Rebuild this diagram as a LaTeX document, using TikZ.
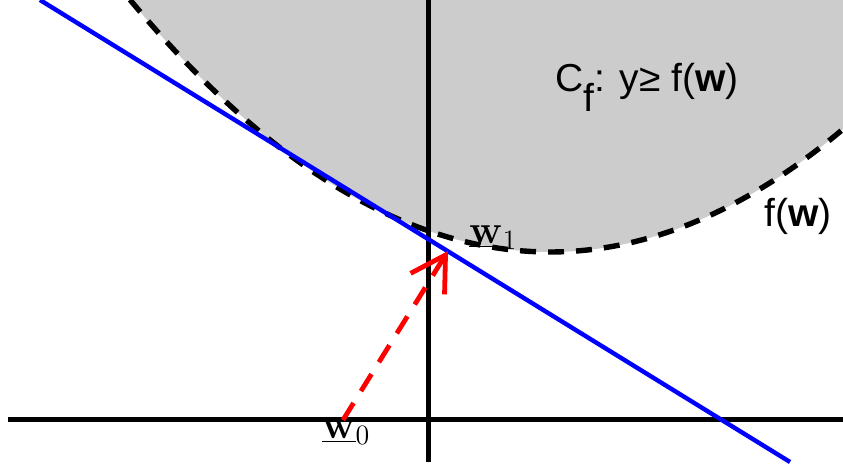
\documentclass[tikz,border=0pt]{standalone}
\usepackage{fix-cm}
\usepackage[no-math]{fontspec}
\newfontfamily\sansfont{Liberation Sans}
\usetikzlibrary{arrows.meta}
\tikzset{
ax/.style={line width=2.5pt},
fw/.style={line width=2.7pt,dash pattern=on 8pt off 6pt},
tang/.style={blue,line width=2.2pt},
move/.style={red,line width=2.4pt,dash pattern=on 10pt off 7pt,-{Straight Barb[length=17pt,width=20pt]}},
lbl/.style={font=\fontsize{19.5}{24}\sansfont,inner sep=0pt,anchor=base west},
vec/.style={font=\fontsize{20}{24}\selectfont,inner sep=0pt,anchor=base west},
}

\begin{document}
\begin{tikzpicture}[x=0.5pt,y=-0.5pt]
	\useasboundingbox (0,0) rectangle (843,470);
	\coordinate (xl) at (8,420);
	\coordinate (xr) at (843,420);
	\coordinate (yt) at (428,0);
	\coordinate (yb) at (428,462);
	\coordinate (ta) at (40,0);
	\coordinate (tb) at (790,462);
	\coordinate (p0) at (343,420);
	\coordinate (p1) at (448,251);

	% epigraph and f(w)
	\fill[gray!40] plot[domain=130:843,samples=90] (\x,{252-14.3*((\x-550)/100)^2}) -- (843,0) -- cycle;
	\draw[fw] plot[domain=130:843,samples=90] (\x,{252-14.3*((\x-550)/100)^2});

	\draw[ax] (xl) -- (xr);
	\draw[ax] (yt) -- (yb);
	\draw[tang] (ta) -- (tb);
	\draw[move] (p0) -- (p1);

	\node[lbl] (cf) at (555,92) {C\raisebox{-10pt}{f}: y≥ f(\textbf{w})};
	\node[lbl] (fw) at (764,227) {f(\textbf{w})};
	\node[vec] (w1) at (469,244) {$\underline{\mathbf{w}}_1$};
	\node[vec] (w0) at (322,439) {$\underline{\mathbf{w}}_0$};
\end{tikzpicture}
\end{document}
